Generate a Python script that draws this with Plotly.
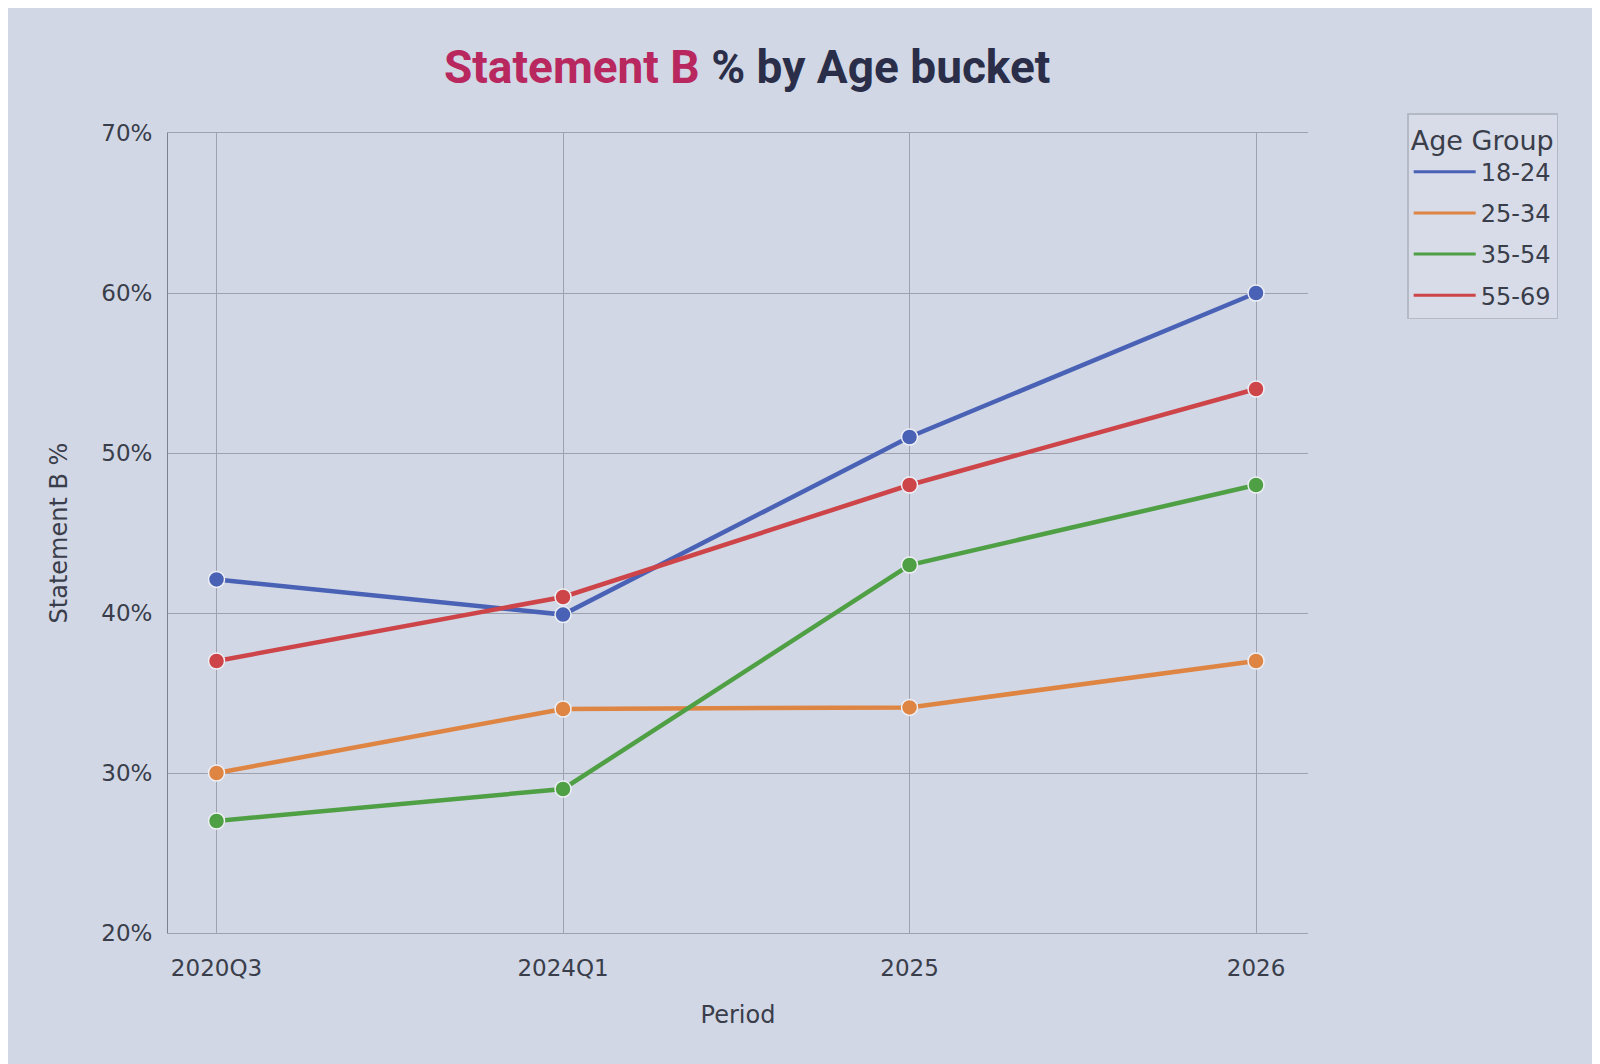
import plotly.graph_objects as go

periods = ["2020Q3", "2024Q1", "2025", "2026"]
age_groups = ["18-24", "25-34", "35-54", "55-69"]
v_18_24 = [42.1, 39.9, 51.0, 60.0]
v_25_34 = [30.0, 34.0, 34.1, 37.0]
v_35_54 = [27.0, 29.0, 43.0, 48.0]
v_55_69 = [37.0, 41.0, 48.0, 54.0]
series_values = [v_18_24, v_25_34, v_35_54, v_55_69]
colors = ["#4a62b5", "#df8544", "#4f9f45", "#cd4449"]
y_ticks = [20, 30, 40, 50, 60, 70]
y_tick_labels = ["20%", "30%", "40%", "50%", "60%", "70%"]

bg = "#d1d7e5"
fig = go.Figure()
for name, vals, col in zip(age_groups, series_values, colors):
    fig.add_trace(go.Scatter(
        x=periods, y=vals, name=name, mode="lines+markers",
        line=dict(color=col, width=4.5),
        marker=dict(size=16, color=col, line=dict(color="#eef0f6", width=1.5)),
        showlegend=False,
    ))
# legend entries (line only, as in the reference)
for name, col in zip(age_groups, colors):
    fig.add_trace(go.Scatter(
        x=[None], y=[None], name=name, mode="lines",
        line=dict(color=col, width=3), legendgroup=name, showlegend=True,
    ))

fig.update_layout(
    width=1600, height=1064,
    paper_bgcolor=bg, plot_bgcolor=bg,
    margin=dict(l=160, r=300, t=125, b=139),
    font=dict(family="DejaVu Sans", color="#3a3d4a"),
    title=dict(
        text="<span style='color:#b8285f'>Statement B</span> % by Age bucket",
        font=dict(family="Roboto", size=46, color="#2b2e48", weight="bold"),
        x=0.462, xref="container", xanchor="center",
        y=0.945, yref="container", yanchor="middle",
    ),
    legend=dict(
        title=dict(text="Age Group", font=dict(size=27, color="#3a3d4a")),
        font=dict(size=24, color="#3a3d4a"),
        x=1.087, xref="paper", xanchor="left",
        y=1.025, yref="paper", yanchor="top",
        bgcolor="#d7dce8", bordercolor="#b4b9c6", borderwidth=1.5,
        tracegroupgap=7, itemwidth=62,
        itemclick=False,
    ),
    showlegend=True,
)
fig.update_xaxes(
    type="category", range=[-0.14, 3.15],
    showgrid=True, gridcolor="#9da2ae", gridwidth=1,
    showline=True, linecolor="#9da2ae", linewidth=1, mirror=True,
    zeroline=False,
    ticks="outside", ticklen=14, tickcolor="rgba(0,0,0,0)",
    tickfont=dict(size=23, color="#3a3d4a"),
    title=dict(text="Period", font=dict(size=24, color="#3a3d4a"), standoff=26),
)
fig.update_yaxes(
    range=[20, 70], tickvals=y_ticks, ticktext=y_tick_labels,
    showgrid=True, gridcolor="#9da2ae", gridwidth=1,
    showline=True, linecolor="#7d828e", linewidth=1, mirror=False,
    zeroline=False,
    ticks="outside", ticklen=10, tickcolor="rgba(0,0,0,0)",
    tickfont=dict(size=23, color="#3a3d4a"),
    title=dict(text="Statement B %", font=dict(size=24, color="#3a3d4a"), standoff=26),
)

fig.write_html("out.html")
